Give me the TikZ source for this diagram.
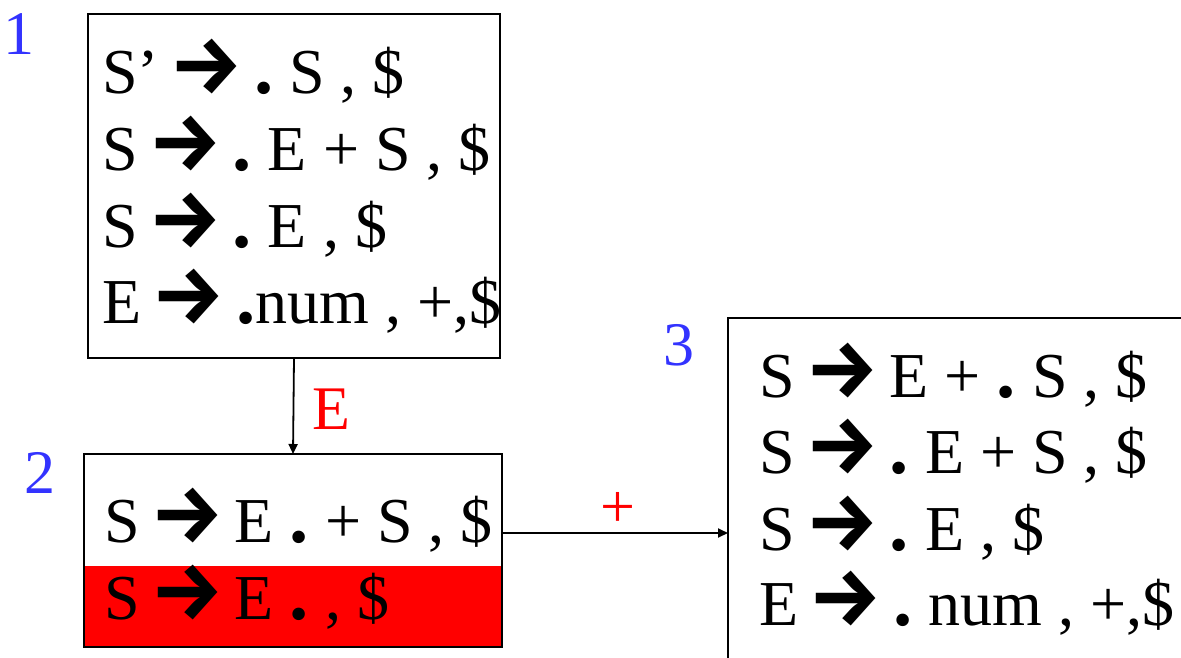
\documentclass[tikz,border=0pt]{standalone}
\usepackage{graphicx}
\usepackage{fontspec}
\setmainfont{Liberation Serif}
\newfontfamily\arrowfont{Fira Sans}
\usetikzlibrary{arrows.meta}
\definecolor{numblue}{RGB}{51,51,255}
\newcommand\ar{\makebox[63pt][c]{\arrowfont\bfseries\fontsize{82}{82}\selectfont →}}
\newcommand\dt{\scalebox{1.2}{\textbf{.}}}
\begin{document}
\begin{tikzpicture}[x=1pt,y=-1pt,
  box/.style={draw,line width=2.5pt,inner sep=0pt,outer sep=0pt,anchor=north west},
  itemline/.style={anchor=base west,inner sep=0pt,font=\fontsize{64}{77}\selectfont},
  conn/.style={line width=1.8pt,-{Triangle[length=10pt,width=9pt]}},
  lbl/.style={text=red,inner sep=0pt,font=\fontsize{62}{62}\selectfont},
  num/.style={text=numblue,inner sep=0pt,anchor=base west,font=\fontsize{62}{62}\selectfont}]
\clip (0,0) rectangle (1181,657);
\fill[white] (0,0) rectangle (1181,657);
% state 1
\node[box,minimum width=412pt,minimum height=344pt] (b1) at (88,14) {};
\node[itemline] (b1l1) at (102,93)  {S’ \ar{} \dt{} S , \$};
\node[itemline] (b1l2) at (102,170) {S \ar{} \dt{} E + S , \$};
\node[itemline] (b1l3) at (102,247) {S \ar{} \dt{} E , \$};
\node[itemline] (b1l4) at (102,323) {E \ar{} \dt{}num , +,\$};
% state 2
\node[fill=red,inner sep=0pt,outer sep=0pt,anchor=north west,minimum width=418pt,minimum height=81pt] (b2fill) at (84,566) {};
\node[box,minimum width=418pt,minimum height=193pt] (b2) at (84,454) {};
\node[itemline] (b2l1) at (104,542) {S \ar{} E \dt{} + S , \$};
\node[itemline] (b2l2) at (104,619) {S \ar{} E \dt{} , \$};
% state 3
\node[box,minimum width=500pt,minimum height=400pt] (b3) at (728,318) {};
\node[itemline] (b3l1) at (759,397) {S \ar{} E + \dt{} S , \$};
\node[itemline] (b3l2) at (759,473) {S \ar{} \dt{} E + S , \$};
\node[itemline] (b3l3) at (759,550) {S \ar{} \dt{} E , \$};
\node[itemline] (b3l4) at (759,625) {E \ar{} \dt{} num , +,\$};
% state numbers
\node[num] (n1) at (3,54) {1};
\node[num] (n2) at (24,493) {2};
\node[num] (n3) at (663,365) {3};
% transitions
\draw[conn] (b1.south) -- (b2.north);
\node[lbl,anchor=base] (lE) at (331,429) {E};
\path (b2.north east) ++(0,79) coordinate (pa);
\draw[conn] (pa) -- (pa -| b3.west);
\node[lbl] (lplus) at (618,510) {+};
\end{tikzpicture}
\end{document}
